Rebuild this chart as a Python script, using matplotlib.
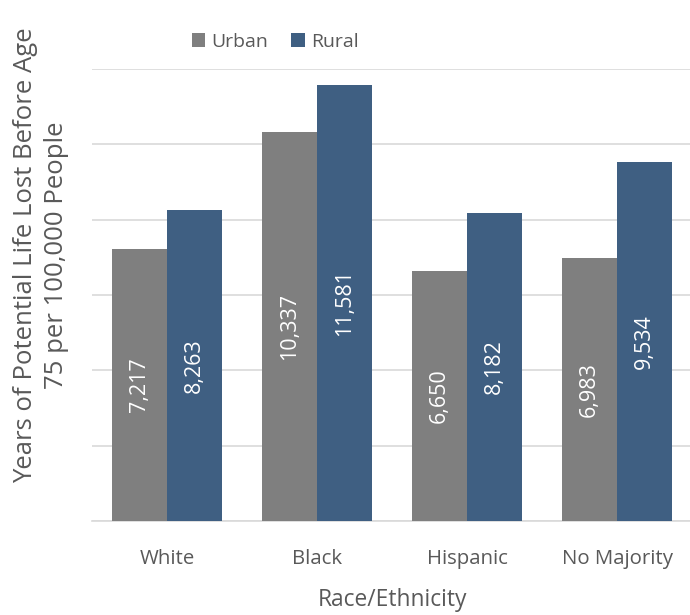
import matplotlib.pyplot as plt
import numpy as np

categories = ['White', 'Black', 'Hispanic', 'No Majority']
urban = [7217, 10337, 6650, 6983]
rural = [8263, 11581, 8182, 9534]
series = ['Urban', 'Rural']

plt.rcParams['font.family'] = ['Open Sans', 'DejaVu Sans']
text_color = '#595959'

fig = plt.figure(figsize=(6.9, 6.15), dpi=100)
ax = fig.add_axes([92 / 690, 1 - 521 / 615, 600 / 690, 452 / 615])

x = np.arange(len(categories))
w = 0.365
b1 = ax.bar(x - w / 2, urban, w, color='#7f7f7f', label=series[0], zorder=3)
b2 = ax.bar(x + w / 2, rural, w, color='#3f5f82', label=series[1], zorder=3)

for bars, vals in ((b1, urban), (b2, rural)):
    for bar, v in zip(bars, vals):
        ax.text(bar.get_x() + bar.get_width() / 2, v / 2, f'{v:,}',
                rotation=90, ha='center', va='center', color='white', fontsize=15.5)

ax.set_xlim(-0.5, 3.5)
ax.set_ylim(0, 12000)
ax.set_yticks(np.arange(0, 12001, 2000))
ax.set_yticklabels([])
ax.tick_params(axis='y', length=0)
ax.tick_params(axis='x', length=0, pad=20, labelsize=14.7, labelcolor=text_color)
ax.set_xticks(x)
ax.set_xticklabels(categories)
ax.grid(axis='y', color='#d9d9d9', linewidth=1.2, zorder=0)
for s in ('top', 'right', 'left'):
    ax.spines[s].set_visible(False)
ax.spines['bottom'].set_color('#d9d9d9')
ax.spines['bottom'].set_linewidth(1.2)

ax.set_xlabel('Race/Ethnicity', fontsize=16.4, color=text_color, labelpad=14)
fig.text(41 / 690, 1 - 255 / 615,
         'Years of Potential Life Lost Before Age\n75 per 100,000 People',
         rotation=90, ha='center', va='center', fontsize=18.5, color=text_color,
         linespacing=1.3)

fig.legend(loc='center', bbox_to_anchor=(275 / 690, 1 - 42 / 615), ncol=2,
           frameon=False, fontsize=14, labelcolor=text_color,
           handlelength=0.7, handleheight=0.7, handletextpad=0.3, columnspacing=1.2)

fig.savefig('out.png', dpi=100)
